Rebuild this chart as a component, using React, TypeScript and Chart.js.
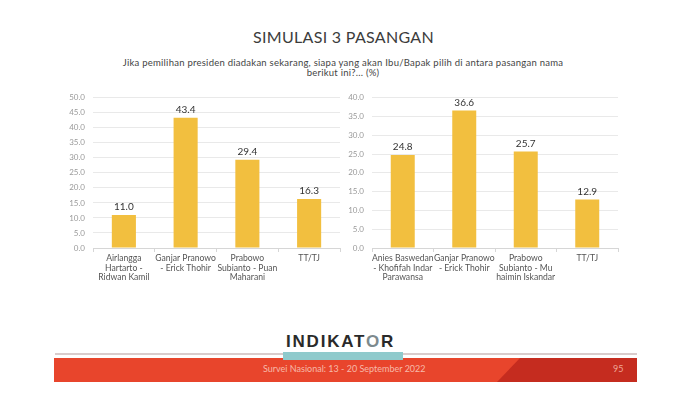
import React, { useEffect, useRef } from "react";
import { Chart, registerables } from "chart.js";

Chart.register(...registerables);

const leftCategories: string[][] = [
  ["Airlangga", "Hartarto -", "Ridwan Kamil"],
  ["Ganjar Pranowo", "- Erick Thohir"],
  ["Prabowo", "Subianto - Puan", "Maharani"],
  ["TT/TJ"],
];
const leftValues: number[] = [11.0, 43.4, 29.4, 16.3];
const leftMax = 50;

const rightCategories: string[][] = [
  ["Anies Baswedan", "- Khofifah Indar", "Parawansa"],
  ["Ganjar Pranowo", "- Erick Thohir"],
  ["Prabowo", "Subianto - Mu", "haimin Iskandar"],
  ["TT/TJ"],
];
const rightValues: number[] = [24.8, 36.6, 25.7, 12.9];
const rightMax = 40;
const tickStep = 5;

const titleText = "SIMULASI 3 PASANGAN";
const subtitleLines = [
  "Jika pemilihan presiden diadakan sekarang, siapa yang akan Ibu/Bapak pilih di antara pasangan nama",
  "berikut ini?... (%)",
];
const footerText = "Survei Nasional: 13 - 20 September 2022";
const pageNumber = "95";

const FONT = "Lato, 'Open Sans', sans-serif";
const BAR_COLOR = "#F2BF3F";

const valueLabelPlugin = {
  id: "valueLabels",
  afterDatasetsDraw(chart: any) {
    const ctx = chart.ctx;
    ctx.save();
    ctx.font = `10px ${FONT}`;
    ctx.fillStyle = "#333333";
    ctx.textAlign = "center";
    ctx.textBaseline = "bottom";
    chart.data.datasets.forEach((ds: any, di: number) => {
      const meta = chart.getDatasetMeta(di);
      meta.data.forEach((bar: any, i: number) => {
        ctx.fillText(Number(ds.data[i]).toFixed(1), bar.x, bar.y - 3);
      });
    });
    ctx.restore();
  },
};

function makeConfig(labels: string[][], values: number[], max: number, yWidth: number): any {
  return {
    type: "bar",
    data: {
      labels,
      datasets: [
        {
          data: values,
          backgroundColor: BAR_COLOR,
          borderWidth: 0,
          categoryPercentage: 1,
          barPercentage: 0.39,
        },
      ],
    },
    options: {
      animation: false,
      responsive: false,
      maintainAspectRatio: false,
      layout: { padding: { top: 12, right: 5, left: 0, bottom: 0 } },
      plugins: {
        legend: { display: false },
        tooltip: { enabled: false },
        title: { display: false },
      },
      scales: {
        x: {
          grid: {
            drawOnChartArea: false,
            drawTicks: true,
            tickLength: 4,
            color: "#d6d6d6",
            offset: true,
          },
          border: { display: true, color: "#d6d6d6" },
          ticks: {
            color: "#555555",
            font: { family: FONT, size: 8.6, lineHeight: 1.08 },
            padding: 2,
            maxRotation: 0,
            autoSkip: false,
          },
          afterFit(scale: any) {
            scale.height = 47;
          },
        },
        y: {
          min: 0,
          max,
          ticks: {
            stepSize: tickStep,
            color: "#9a9a9a",
            font: { family: FONT, size: 8 },
            padding: 8,
            callback: (v: any) => Number(v).toFixed(1),
          },
          grid: { color: "#e9e9e9", drawTicks: false },
          border: { display: false },
          afterFit(scale: any) {
            scale.width = yWidth;
          },
        },
      },
    },
    plugins: [valueLabelPlugin],
  };
}

function BarChart(props: { labels: string[][]; values: number[]; max: number; yWidth: number; style: React.CSSProperties; width: number; height: number }) {
  const ref = useRef<HTMLCanvasElement | null>(null);
  useEffect(() => {
    if (!ref.current) return;
    const chart = new Chart(ref.current, makeConfig(props.labels, props.values, props.max, props.yWidth));
    return () => chart.destroy();
  }, []);
  return (
    <canvas
      ref={ref}
      width={props.width}
      height={props.height}
      style={{ position: "absolute", width: props.width, height: props.height, ...props.style }}
    />
  );
}

export default function App() {
  useEffect(() => {
    document.body.style.margin = "0";
    document.body.style.background = "#ffffff";
  }, []);
  return (
    <div style={{ position: "relative", width: 700, height: 393, overflow: "hidden", background: "#fff", fontFamily: FONT }}>
      <div
        style={{
          position: "absolute",
          left: 0,
          width: 687,
          top: 27,
          textAlign: "center",
          fontSize: 16,
          color: "#3c3c3c",
          letterSpacing: 0.3,
          lineHeight: "20px",
        }}
      >
        {titleText}
      </div>
      {subtitleLines.map((line, i) => (
        <div
          key={i}
          style={{
            position: "absolute",
            left: 0,
            width: 686,
            top: 57 + i * 10,
            textAlign: "center",
            fontSize: 9.5,
            letterSpacing: 0.25,
            color: "#444",
            lineHeight: "12px",
            whiteSpace: "nowrap",
          }}
        >
          {line}
        </div>
      ))}

      <BarChart labels={leftCategories} values={leftValues} max={leftMax} yWidth={43} width={295} height={210} style={{ left: 50, top: 85 }} />
      <BarChart labels={rightCategories} values={rightValues} max={rightMax} yWidth={42} width={293} height={210} style={{ left: 330, top: 85 }} />

      {/* footer */}
      <div style={{ position: "absolute", left: 55, top: 353, width: 582, height: 2, background: "#d9cccc" }} />
      <div style={{ position: "absolute", left: 54, top: 358, width: 583, height: 24, background: "#E8452C" }} />
      <div
        style={{
          position: "absolute",
          left: 54,
          top: 358,
          width: 583,
          height: 24,
          background: "#C52C1F",
          clipPath: "polygon(466px 0, 583px 0, 583px 24px, 443px 24px)",
        }}
      />
      <div style={{ position: "absolute", left: 283, top: 352, width: 120, height: 8, background: "#8FCACC" }} />
      <div
        style={{
          position: "absolute",
          left: 286,
          top: 332,
          fontSize: 17,
          fontWeight: 700,
          color: "#2a2a2a",
          letterSpacing: 1.8,
          lineHeight: "20px",
          whiteSpace: "nowrap",
          fontFamily: "'Liberation Sans', Arial, sans-serif",
        }}
      >
        INDIKAT<span style={{ color: "#7d8a8e" }}>O</span>R
      </div>
      <div
        style={{
          position: "absolute",
          left: 263,
          top: 363,
          fontSize: 9,
          color: "#F7B9A9",
          lineHeight: "12px",
          whiteSpace: "nowrap",
        }}
      >
        {footerText}
      </div>
      <div
        style={{
          position: "absolute",
          left: 613,
          top: 363,
          fontSize: 9,
          color: "#EFA898",
          lineHeight: "12px",
        }}
      >
        {pageNumber}
      </div>
    </div>
  );
}
